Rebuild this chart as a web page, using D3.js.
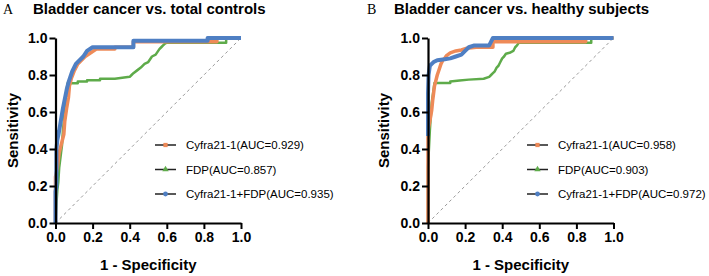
<!DOCTYPE html>
<html>
<head>
<meta charset="utf-8">
<script src="https://cdn.jsdelivr.net/npm/d3@7"></script>
<style>
  html, body { margin: 0; padding: 0; background: #fff; }
  svg { display: block; }
</style>
</head>
<body>
<script>
// ---- data (FPR, TPR) ----
var ticks = [0, 0.2, 0.4, 0.6, 0.8, 1.0];
var seriesNames = ['Cyfra21-1', 'FDP', 'Cyfra21-1+FDP'];
var aucA = ['0.929', '0.857', '0.935'];
var aucB = ['0.958', '0.903', '0.972'];

var cyfraA = [[0,0],[0,0.25],[0.01,0.3],[0.02,0.38],[0.03,0.42],[0.045,0.48],[0.05,0.55],[0.06,0.62],[0.07,0.68],[0.075,0.74],[0.085,0.78],[0.1,0.82],[0.12,0.86],[0.14,0.88],[0.16,0.9],[0.19,0.92],[0.22,0.94],[0.32,0.94],[0.32,0.95],[0.42,0.95],[0.42,0.98],[0.87,0.98],[0.87,1],[1,1]];
var fdpA = [[0,0],[0.005,0.1],[0.01,0.18],[0.015,0.22],[0.02,0.3],[0.03,0.38],[0.035,0.42],[0.04,0.5],[0.045,0.55],[0.05,0.62],[0.055,0.68],[0.06,0.72],[0.065,0.755],[0.12,0.755],[0.12,0.765],[0.17,0.765],[0.17,0.772],[0.24,0.772],[0.24,0.78],[0.32,0.78],[0.36,0.785],[0.4,0.79],[0.41,0.8],[0.42,0.81],[0.44,0.825],[0.46,0.84],[0.48,0.86],[0.5,0.87],[0.51,0.885],[0.52,0.9],[0.54,0.91],[0.55,0.925],[0.56,0.94],[0.57,0.95],[0.58,0.96],[0.59,0.97],[0.6,0.975],[0.92,0.975],[0.92,1],[1,1]];
var comboA = [[0,0],[0,0.17],[0.005,0.2],[0.005,0.4],[0.01,0.45],[0.02,0.5],[0.03,0.56],[0.04,0.62],[0.05,0.67],[0.06,0.72],[0.07,0.76],[0.08,0.79],[0.09,0.82],[0.1,0.84],[0.11,0.86],[0.13,0.88],[0.15,0.9],[0.17,0.93],[0.2,0.95],[0.42,0.95],[0.42,0.985],[0.82,0.985],[0.82,1],[1,1]];

var cyfraB = [[0,0],[0,0.5],[0.01,0.55],[0.02,0.61],[0.025,0.66],[0.03,0.7],[0.035,0.74],[0.04,0.76],[0.05,0.8],[0.06,0.83],[0.07,0.86],[0.08,0.88],[0.09,0.89],[0.1,0.905],[0.12,0.92],[0.15,0.93],[0.18,0.935],[0.21,0.945],[0.26,0.95],[0.35,0.95],[0.35,0.98],[0.85,0.98],[0.85,1],[1,1]];
var fdpB = [[0,0],[0,0.3],[0.01,0.5],[0.02,0.65],[0.03,0.72],[0.035,0.757],[0.12,0.757],[0.12,0.765],[0.17,0.77],[0.22,0.775],[0.3,0.78],[0.33,0.79],[0.34,0.8],[0.35,0.81],[0.36,0.82],[0.37,0.84],[0.38,0.85],[0.39,0.87],[0.4,0.89],[0.41,0.9],[0.42,0.915],[0.44,0.92],[0.46,0.93],[0.47,0.95],[0.48,0.96],[0.49,0.975],[0.88,0.975],[0.88,1],[1,1]];
var comboB = [[0,0.47],[0,0.7],[0.003,0.8],[0.01,0.85],[0.02,0.86],[0.03,0.87],[0.05,0.88],[0.09,0.885],[0.12,0.89],[0.15,0.9],[0.18,0.91],[0.2,0.93],[0.22,0.95],[0.25,0.96],[0.33,0.96],[0.34,0.98],[0.35,1],[1,1]];

window.onload = function(){
    var colors = ['#EE8A58', '#5EAB4A', '#4F7FC3'];
    var widths = [3.5, 2.5, 4];
    var symbols = [d3.symbolSquare, d3.symbolTriangle, d3.symbolCircle];

    var svg = d3.select(document.body).append('svg')
        .attr('width', 709).attr('height', 276);

    drawPanel({ left: 55.5, letter: 'A', letterX: 3, titleX: 33, title: 'Bladder cancer vs. total controls',
        ytitleX: 13, legendX: 155, auc: aucA, curves: [cyfraA, fdpA, comboA] });
    drawPanel({ left: 428, letter: 'B', letterX: 367, titleX: 394, title: 'Bladder cancer vs. healthy subjects',
        ytitleX: 384, legendX: 527, auc: aucB, curves: [cyfraB, fdpB, comboB] });

    function drawPanel(p){
        var x = d3.scaleLinear().domain([0, 1]).range([p.left, p.left + 185.5]);
        var y = d3.scaleLinear().domain([0, 1]).range([223, 38]);
        var g = svg.append('g');

        // 글자
        g.append('text').attr('x', p.letterX).attr('y', 14)
            .style('font-family', '"Liberation Serif", serif').style('font-size', '14px')
            .text(p.letter);
        g.append('text').attr('x', p.titleX).attr('y', 14)
            .style('font-family', '"Liberation Sans", Arial, sans-serif').style('font-size', '15px')
            .style('font-weight', 'bold').text(p.title);

        // 대각선
        g.append('line')
            .attr('x1', x(0)).attr('y1', y(0)).attr('x2', x(1)).attr('y2', y(1))
            .attr('stroke', '#9a9a9a').attr('stroke-width', 1).attr('stroke-dasharray', '3,3');

        // 곡선
        var line = d3.line().x(function(d){ return x(d[0]); }).y(function(d){ return y(d[1]); });
        [1, 0, 2].forEach(function(i){
            g.append('path').datum(p.curves[i])
                .attr('d', line)
                .attr('fill', 'none')
                .attr('stroke', colors[i])
                .attr('stroke-width', widths[i])
                .attr('stroke-linejoin', 'round');
        });

        // 축
        var fmt = d3.format('.1f');
        var yAxis = g.append('g').attr('transform', 'translate(' + p.left + ',0)')
            .call(d3.axisLeft(y).tickValues(ticks).tickFormat(fmt).tickSize(6).tickSizeOuter(0).tickPadding(2));
        var xAxis = g.append('g').attr('transform', 'translate(0,' + y(0) + ')')
            .call(d3.axisBottom(x).tickValues(ticks).tickFormat(fmt).tickSize(6).tickSizeOuter(0).tickPadding(3));
        [yAxis, xAxis].forEach(function(a){
            a.select('.domain').attr('stroke', '#000').attr('stroke-width', 2.2);
            a.selectAll('.tick line').attr('stroke', '#000').attr('stroke-width', 2);
            a.selectAll('.tick text')
                .style('font-family', '"Liberation Sans", Arial, sans-serif')
                .style('font-size', '14px').style('font-weight', 'bold').attr('fill', '#000');
        });

        g.append('text').attr('x', x(0.5)).attr('y', 270).attr('text-anchor', 'middle')
            .style('font-family', '"Liberation Sans", Arial, sans-serif').style('font-size', '15px')
            .style('font-weight', 'bold').text('1 - Specificity');
        g.append('text').attr('transform', 'translate(' + (p.ytitleX + 5) + ',' + y(0.5) + ') rotate(-90)')
            .attr('text-anchor', 'middle')
            .style('font-family', '"Liberation Sans", Arial, sans-serif').style('font-size', '15px')
            .style('font-weight', 'bold').text('Sensitivity');

        // 범례
        var legend = g.append('g').selectAll('g').data(seriesNames).enter().append('g')
            .attr('transform', function(d, i){ return 'translate(' + p.legendX + ',' + (145 + i * 24.5) + ')'; });
        legend.append('line').attr('x1', 0).attr('x2', 21).attr('stroke', '#222').attr('stroke-width', 1.5);
        legend.append('path')
            .attr('transform', 'translate(10.5,0)')
            .attr('d', function(d, i){ return d3.symbol().type(symbols[i]).size(18)(); })
            .attr('fill', function(d, i){ return colors[i]; });
        legend.append('text').attr('x', 31).attr('y', 4)
            .style('font-family', '"Liberation Sans", Arial, sans-serif').style('font-size', '11.5px')
            .text(function(d, i){ return d + '(AUC=' + p.auc[i] + ')'; });
    }
};
</script>
</body>
</html>
